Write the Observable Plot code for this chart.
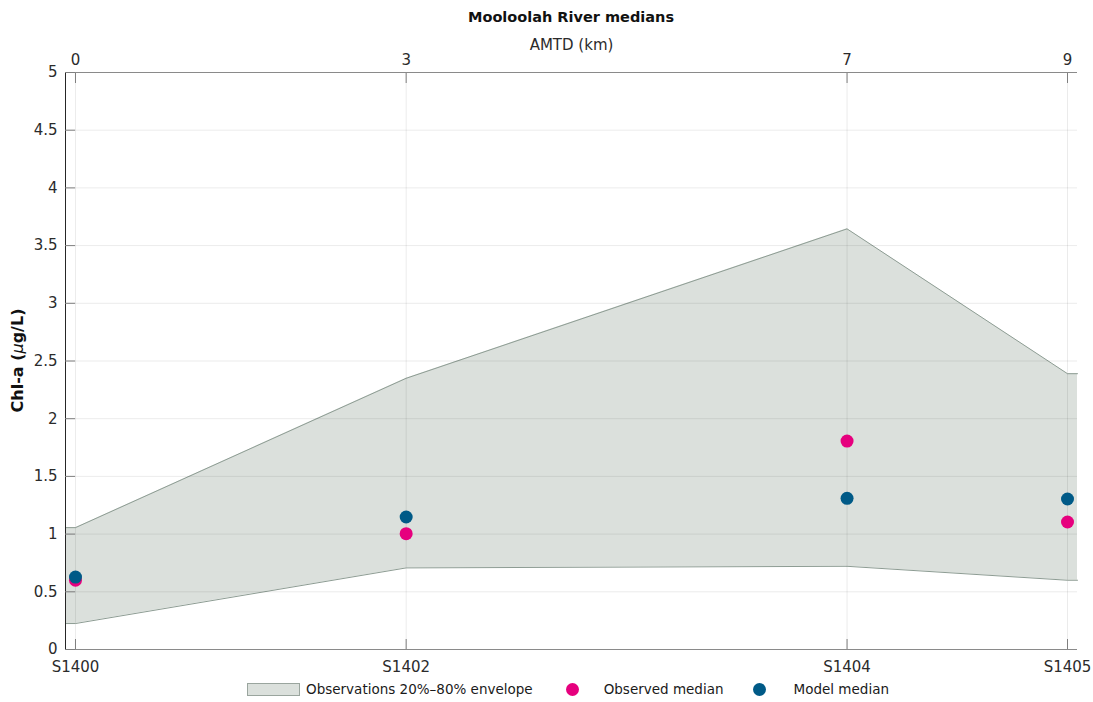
<!DOCTYPE html>
<html><head><meta charset="utf-8">
<script src="https://cdn.jsdelivr.net/npm/d3@7"></script>
<script src="https://cdn.jsdelivr.net/npm/@observablehq/plot@0.6"></script>
<style>
body{margin:0;background:#fff;font-family:"DejaVu Sans",sans-serif;color:#262626;}
#wrap{width:1093px;height:702px;position:relative;overflow:hidden;}
.title{position:absolute;left:65px;width:1012px;top:0;height:34px;line-height:34px;text-align:center;font-weight:bold;font-size:14.5px;color:#111;}
#chart{position:absolute;left:0;top:34px;}
.legend{position:absolute;left:62px;width:1012px;top:676px;height:26px;display:flex;justify-content:center;align-items:center;font-size:13.5px;color:#1a1a1a;}
.sw{width:51px;height:11px;background:#dbe0dc;border:1px solid #9aa59e;margin-right:6px;}
.dot{width:13px;height:13px;border-radius:50%;}
</style></head>
<body><div id="wrap">
<div class="title">Mooloolah River medians</div>
<div id="chart"></div>
<div class="legend">
<span class="sw"></span><span>Observations 20%–80% envelope</span>
<span class="dot" style="background:#e6007e;margin-left:33px;margin-right:25px"></span><span>Observed median</span>
<span class="dot" style="background:#005a87;margin-left:29px;margin-right:28px"></span><span>Model median</span>
</div>
</div>
<script>
const amtd = [0, 3, 7, 9];
const sites = ["S1400", "S1402", "S1404", "S1405"];
const envLow = [0.225, 0.707, 0.721, 0.60];
const envHigh = [1.056, 2.35, 3.645, 2.39];
const observed = [0.60, 1.004, 1.806, 1.105];
const model = [0.628, 1.148, 1.31, 1.304];
const yTicks = [0, 0.5, 1, 1.5, 2, 2.5, 3, 3.5, 4, 4.5, 5];

const xPad = 0.0907;
const xDomain = [amtd[0] - xPad, amtd[amtd.length - 1] + xPad];
const last = amtd.length - 1;
const env = [
  {x: xDomain[0], lo: envLow[0], hi: envHigh[0]},
  ...amtd.map((x, i) => ({x, lo: envLow[i], hi: envHigh[i]})),
  {x: xDomain[1], lo: envLow[last], hi: envHigh[last]}
];
const pts = amtd.map((x, i) => ({x, site: sites[i], obs: observed[i], mod: model[i]}));

const tickCol = "#7f7f7f";
const svg = Plot.plot({
  width: 1093, height: 642,
  marginTop: 38, marginBottom: 27, marginLeft: 65, marginRight: 16,
  style: {fontFamily: "DejaVu Sans", fontSize: "15px", color: "#2b2b2b", background: "transparent", overflow: "visible"},
  x: {domain: xDomain},
  y: {domain: [0, 5]},
  marks: [
    Plot.areaY(env, {x: "x", y1: "lo", y2: "hi", fill: "#dbe0dc"}),
    Plot.line(env, {x: "x", y: "hi", stroke: "#8d9c93", strokeWidth: 1}),
    Plot.line(env, {x: "x", y: "lo", stroke: "#8d9c93", strokeWidth: 1}),
    Plot.gridX(amtd, {stroke: "#000", strokeOpacity: 0.08}),
    Plot.gridY(yTicks, {stroke: "#000", strokeOpacity: 0.08}),
    Plot.ruleY([0], {stroke: "#8a8a8a"}),
    Plot.ruleY([5], {stroke: "#8a8a8a"}),
    Plot.ruleX([xDomain[0]], {stroke: "#262626"}),
    Plot.axisX(amtd, {anchor: "top", tickSize: 0, tickPadding: 8, tickFormat: d => String(d), label: "AMTD (km)", labelAnchor: "center", labelArrow: "none", labelOffset: 33}),
    Plot.axisX(amtd, {anchor: "top", tickSize: 10, dy: 10, fill: "none", label: null, stroke: tickCol}),
    Plot.axisX(amtd, {anchor: "bottom", tickSize: 0, tickPadding: 12, tickFormat: d => sites[amtd.indexOf(d)], label: null}),
    Plot.axisX(amtd, {anchor: "bottom", tickSize: 10, dy: -10, fill: "none", label: null, stroke: tickCol}),
    Plot.axisY(yTicks, {anchor: "left", tickSize: 0, tickPadding: 8, tickFormat: d => String(d), label: null}),
    Plot.axisY(yTicks, {anchor: "left", tickSize: 10, dx: 10, fill: "none", label: null, stroke: tickCol}),
    Plot.dot(pts, {x: "x", y: "obs", r: 6.5, fill: "#e6007e"}),
    Plot.dot(pts, {x: "x", y: "mod", r: 6.5, fill: "#005a87"})
  ]
});
const yl = d3.select(svg).append("text")
  .attr("transform", "translate(18,326.5) rotate(-90)")
  .attr("text-anchor", "middle")
  .attr("dominant-baseline", "middle")
  .attr("font-weight", "bold")
  .attr("font-size", 16)
  .attr("fill", "#111");
yl.append("tspan").text("Chl-a (");
yl.append("tspan").attr("font-style", "italic").attr("font-weight", "normal").text("μ");
yl.append("tspan").text("g/L)");
document.getElementById("chart").appendChild(svg);
</script>
</body></html>
